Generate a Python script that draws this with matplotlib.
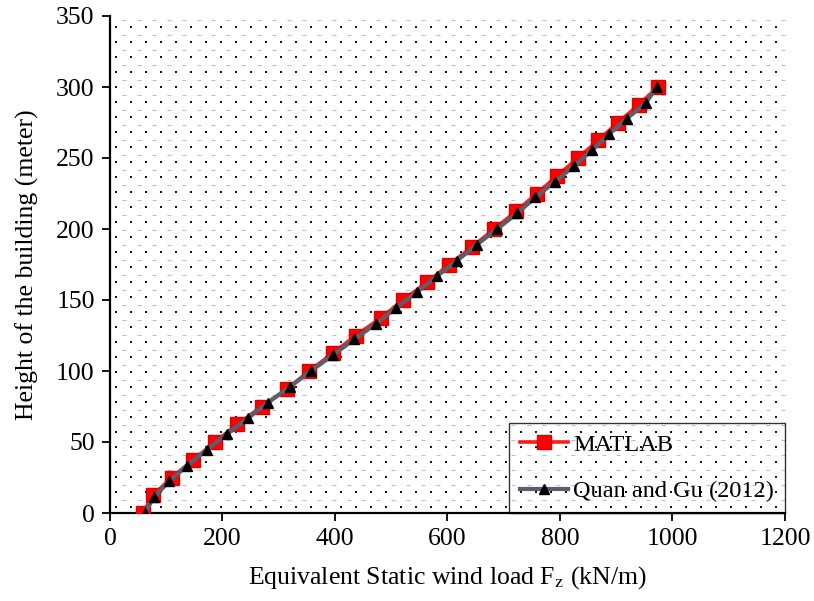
import numpy as np
import matplotlib
matplotlib.use("Agg")
import matplotlib.pyplot as plt

# ---- data ----
matlab_height = [0, 12.5, 25, 37.5, 50, 62.5, 75, 87.5, 100, 112.5, 125, 137.5, 150,
                 162.5, 175, 187.5, 200, 212.5, 225, 237.5, 250, 262.5, 275, 287.5, 300]
matlab_load = [59, 76, 110, 148, 187, 226, 270, 315, 354, 396, 437, 482, 521,
               564, 603, 644, 683, 722, 759, 795, 832, 868, 903, 940, 974]

quan_height = [0, 11.1, 22.2, 33.3, 44.4, 55.6, 66.7, 77.8, 88.9, 100, 111.1, 122.2,
               133.3, 144.4, 155.6, 166.7, 177.8, 188.9, 200, 211.1, 222.2, 233.3,
               244.4, 255.6, 266.7, 277.8, 288.9, 300]
quan_load = [62, 78, 105, 137, 172, 208, 245, 281, 320, 357, 396, 434, 473, 508,
             546, 581, 617, 652, 688, 724, 756, 791, 825, 857, 887, 919, 953, 972]

x_ticks = [0, 200, 400, 600, 800, 1000, 1200]
y_ticks = [0, 50, 100, 150, 200, 250, 300, 350]

plt.rcParams['font.family'] = ['Liberation Serif', 'DejaVu Serif']
plt.rcParams['mathtext.fontset'] = 'stix'

W, H = 814, 601
fig = plt.figure(figsize=(W / 100, H / 100), dpi=100)
l, r, b, t = 110, 785, 513, 16
ax = fig.add_axes([l / W, 1 - b / H, (r - l) / W, (b - t) / H])

# dotted background pattern (decoration)
aw, ah = r - l, b - t
px = np.arange(6, aw, 15.0)
py = np.arange(6, ah, 15.0)
gx, gy = np.meshgrid(px, py)
ax.scatter(gx.ravel() / aw, gy.ravel() / ah, transform=ax.transAxes, marker='s',
           s=2.2, color='#101828', linewidths=0, zorder=0)
gx2, gy2 = np.meshgrid(px + 7.5, py + 7.5)
keep = (gx2 < aw) & (gy2 < ah)
ax.scatter(gx2[keep] / aw, gy2[keep] / ah, transform=ax.transAxes, marker='_',
           s=7, color='#b4bede', linewidths=0.8, zorder=0)

ax.plot(matlab_load, matlab_height, color='#ff1a1a', lw=2.6, marker='s',
        markersize=10, markerfacecolor='#ff0000', markeredgecolor='#e00000',
        label='MATLAB', zorder=3)
ax.plot(quan_load, quan_height, color='#5b5f6c', lw=3.0, marker='^',
        markersize=7.5, markerfacecolor='black', markeredgecolor='black',
        label='Quan and Gu (2012)', zorder=4)

ax.set_xlim(0, 1200)
ax.set_ylim(0, 350)
ax.set_xticks(x_ticks)
ax.set_yticks(y_ticks)
ax.tick_params(direction='out', length=6, width=1.3, labelsize=18.5, colors='black', pad=5)
for s in ['top', 'right']:
    ax.spines[s].set_visible(False)
for s in ['left', 'bottom']:
    ax.spines[s].set_linewidth(1.6)

ax.set_xlabel(r'Equivalent Static wind load F$_\mathrm{z}$ (kN/m)', fontsize=18.5, labelpad=10)
ax.set_ylabel('Height of the building (meter)', fontsize=18.5, labelpad=12)

leg = ax.legend(loc='lower right', fontsize=17.5, frameon=True, fancybox=False,
                borderaxespad=0, handlelength=2.0, labelspacing=1.0,
                borderpad=0.45, handletextpad=0.2)
leg.get_frame().set_edgecolor('black')
leg.get_frame().set_linewidth(1.0)
leg.get_frame().set_facecolor('none')

fig.savefig('out.png', dpi=100)
